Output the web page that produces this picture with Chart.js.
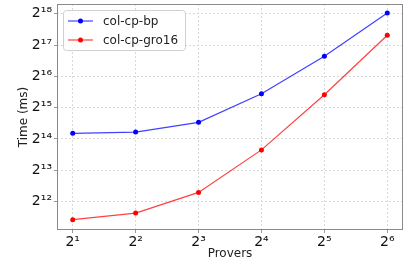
<!DOCTYPE html>
<html>
<head>
<meta charset="utf-8">
<script src="https://cdn.jsdelivr.net/npm/chart.js@4"></script>
<style>
  html, body { margin: 0; padding: 0; background: #fff; }
  #wrap { width: 413px; height: 267px; }
</style>
</head>
<body>
<div id="wrap"><canvas id="timeChart" width="413" height="267"></canvas></div>
<script>
// dados (tempo em ms)
const provers = [2, 4, 8, 16, 32, 64];
const bpTimes = [18560, 19080, 23660, 44450, 102100, 265800];
const gro16Times = [2740, 3170, 5010, 12850, 43540, 162500];
const yTickExps = [12, 13, 14, 15, 16, 17, 18];
const xTickExps = [1, 2, 3, 4, 5, 6];

const sup = { '0': '⁰', '1': '¹', '2': '²', '3': '³', '4': '⁴', '5': '⁵', '6': '⁶', '7': '⁷', '8': '⁸', '9': '⁹' };
function pow2Label(v) {
    const e = Math.round(Math.log2(v));
    return '2' + String(e).split('').map(c => sup[c]).join('');
}

// legenda dentro da área do gráfico + moldura
const framePlugin = {
    id: 'frame',
    afterDatasetsDraw(chart) {
        const { ctx, chartArea: a } = chart;
        ctx.save();
        ctx.strokeStyle = '#8a8a8a';
        ctx.lineWidth = 1;
        ctx.strokeRect(a.left + 0.5, a.top + 0.5, a.right - a.left - 1, a.bottom - a.top - 1);

        const x = a.left + 6, y = a.top + 6, w = 122, h = 40;
        ctx.fillStyle = 'rgba(255,255,255,0.85)';
        ctx.strokeStyle = '#d0d0d0';
        ctx.beginPath();
        ctx.roundRect(x + 0.5, y + 0.5, w, h, 3);
        ctx.fill();
        ctx.stroke();
        ctx.font = '12px "DejaVu Sans"';
        ctx.textBaseline = 'middle';
        chart.data.datasets.forEach((ds, i) => {
            const ly = y + 11 + i * 19;
            ctx.strokeStyle = ds.borderColor;
            ctx.lineWidth = 1.2;
            ctx.beginPath();
            ctx.moveTo(x + 5, ly);
            ctx.lineTo(x + 30, ly);
            ctx.stroke();
            ctx.fillStyle = ds.pointBackgroundColor;
            ctx.beginPath();
            ctx.arc(x + 17.5, ly, 2.5, 0, Math.PI * 2);
            ctx.fill();
            ctx.fillStyle = '#222';
            ctx.fillText(ds.label, x + 40, ly + 1);
        });
        ctx.restore();
    }
};

const ctx = document.getElementById('timeChart').getContext('2d');
const timeChart = new Chart(ctx, {
    type: 'line',
    data: {
        datasets: [{
            label: 'col-cp-bp',
            data: provers.map((p, i) => ({ x: p, y: bpTimes[i] })),
            borderColor: 'rgba(0,0,255,0.75)',
            pointBackgroundColor: '#0000ff',
            pointBorderWidth: 0,
            pointRadius: 2.5,
            borderWidth: 1.2,
            tension: 0
        }, {
            label: 'col-cp-gro16',
            data: provers.map((p, i) => ({ x: p, y: gro16Times[i] })),
            borderColor: 'rgba(255,0,0,0.75)',
            pointBackgroundColor: '#ff0000',
            pointBorderWidth: 0,
            pointRadius: 2.5,
            borderWidth: 1.2,
            tension: 0
        }]
    },
    options: {
        responsive: false,
        animation: false,
        layout: { padding: { top: 1, right: 10, left: 0, bottom: 0 } },
        plugins: { legend: { display: false }, tooltip: { enabled: false } },
        scales: {
            x: {
                type: 'logarithmic',
                min: Math.pow(2, 0.75),
                max: Math.pow(2, 6.25),
                afterBuildTicks: s => { s.ticks = xTickExps.map(e => ({ value: Math.pow(2, e) })); },
                afterFit: s => { s.height = 37; s.paddingLeft = 0; s.paddingRight = 0; },
                ticks: {
                    autoSkip: false, maxRotation: 0, padding: 1,
                    color: '#111', font: { family: 'DejaVu Sans', size: 14 },
                    callback: v => pow2Label(v)
                },
                grid: { color: '#d8d8d8', tickLength: 3, tickColor: '#999' },
                border: { display: false, dash: [2, 2] },
                title: {
                    display: true, text: 'Provers', color: '#222',
                    font: { family: 'DejaVu Sans', size: 12 }, padding: { top: 6, bottom: 6 }
                }
            },
            y: {
                type: 'logarithmic',
                min: Math.pow(2, 11.09),
                max: Math.pow(2, 18.31),
                afterBuildTicks: s => { s.ticks = yTickExps.map(e => ({ value: Math.pow(2, e) })); },
                afterFit: s => { s.width = 57; s.paddingTop = 0; s.paddingBottom = 0; },
                ticks: {
                    autoSkip: false, padding: 2,
                    color: '#111', font: { family: 'DejaVu Sans', size: 14 },
                    callback: v => pow2Label(v)
                },
                grid: { color: '#d8d8d8', tickLength: 3, tickColor: '#999' },
                border: { display: false, dash: [2, 2] },
                title: {
                    display: true, text: 'Time (ms)', color: '#222',
                    font: { family: 'DejaVu Sans', size: 12 }, padding: { top: 17, bottom: 0 }
                }
            }
        }
    },
    plugins: [framePlugin]
});
</script>
</body>
</html>
